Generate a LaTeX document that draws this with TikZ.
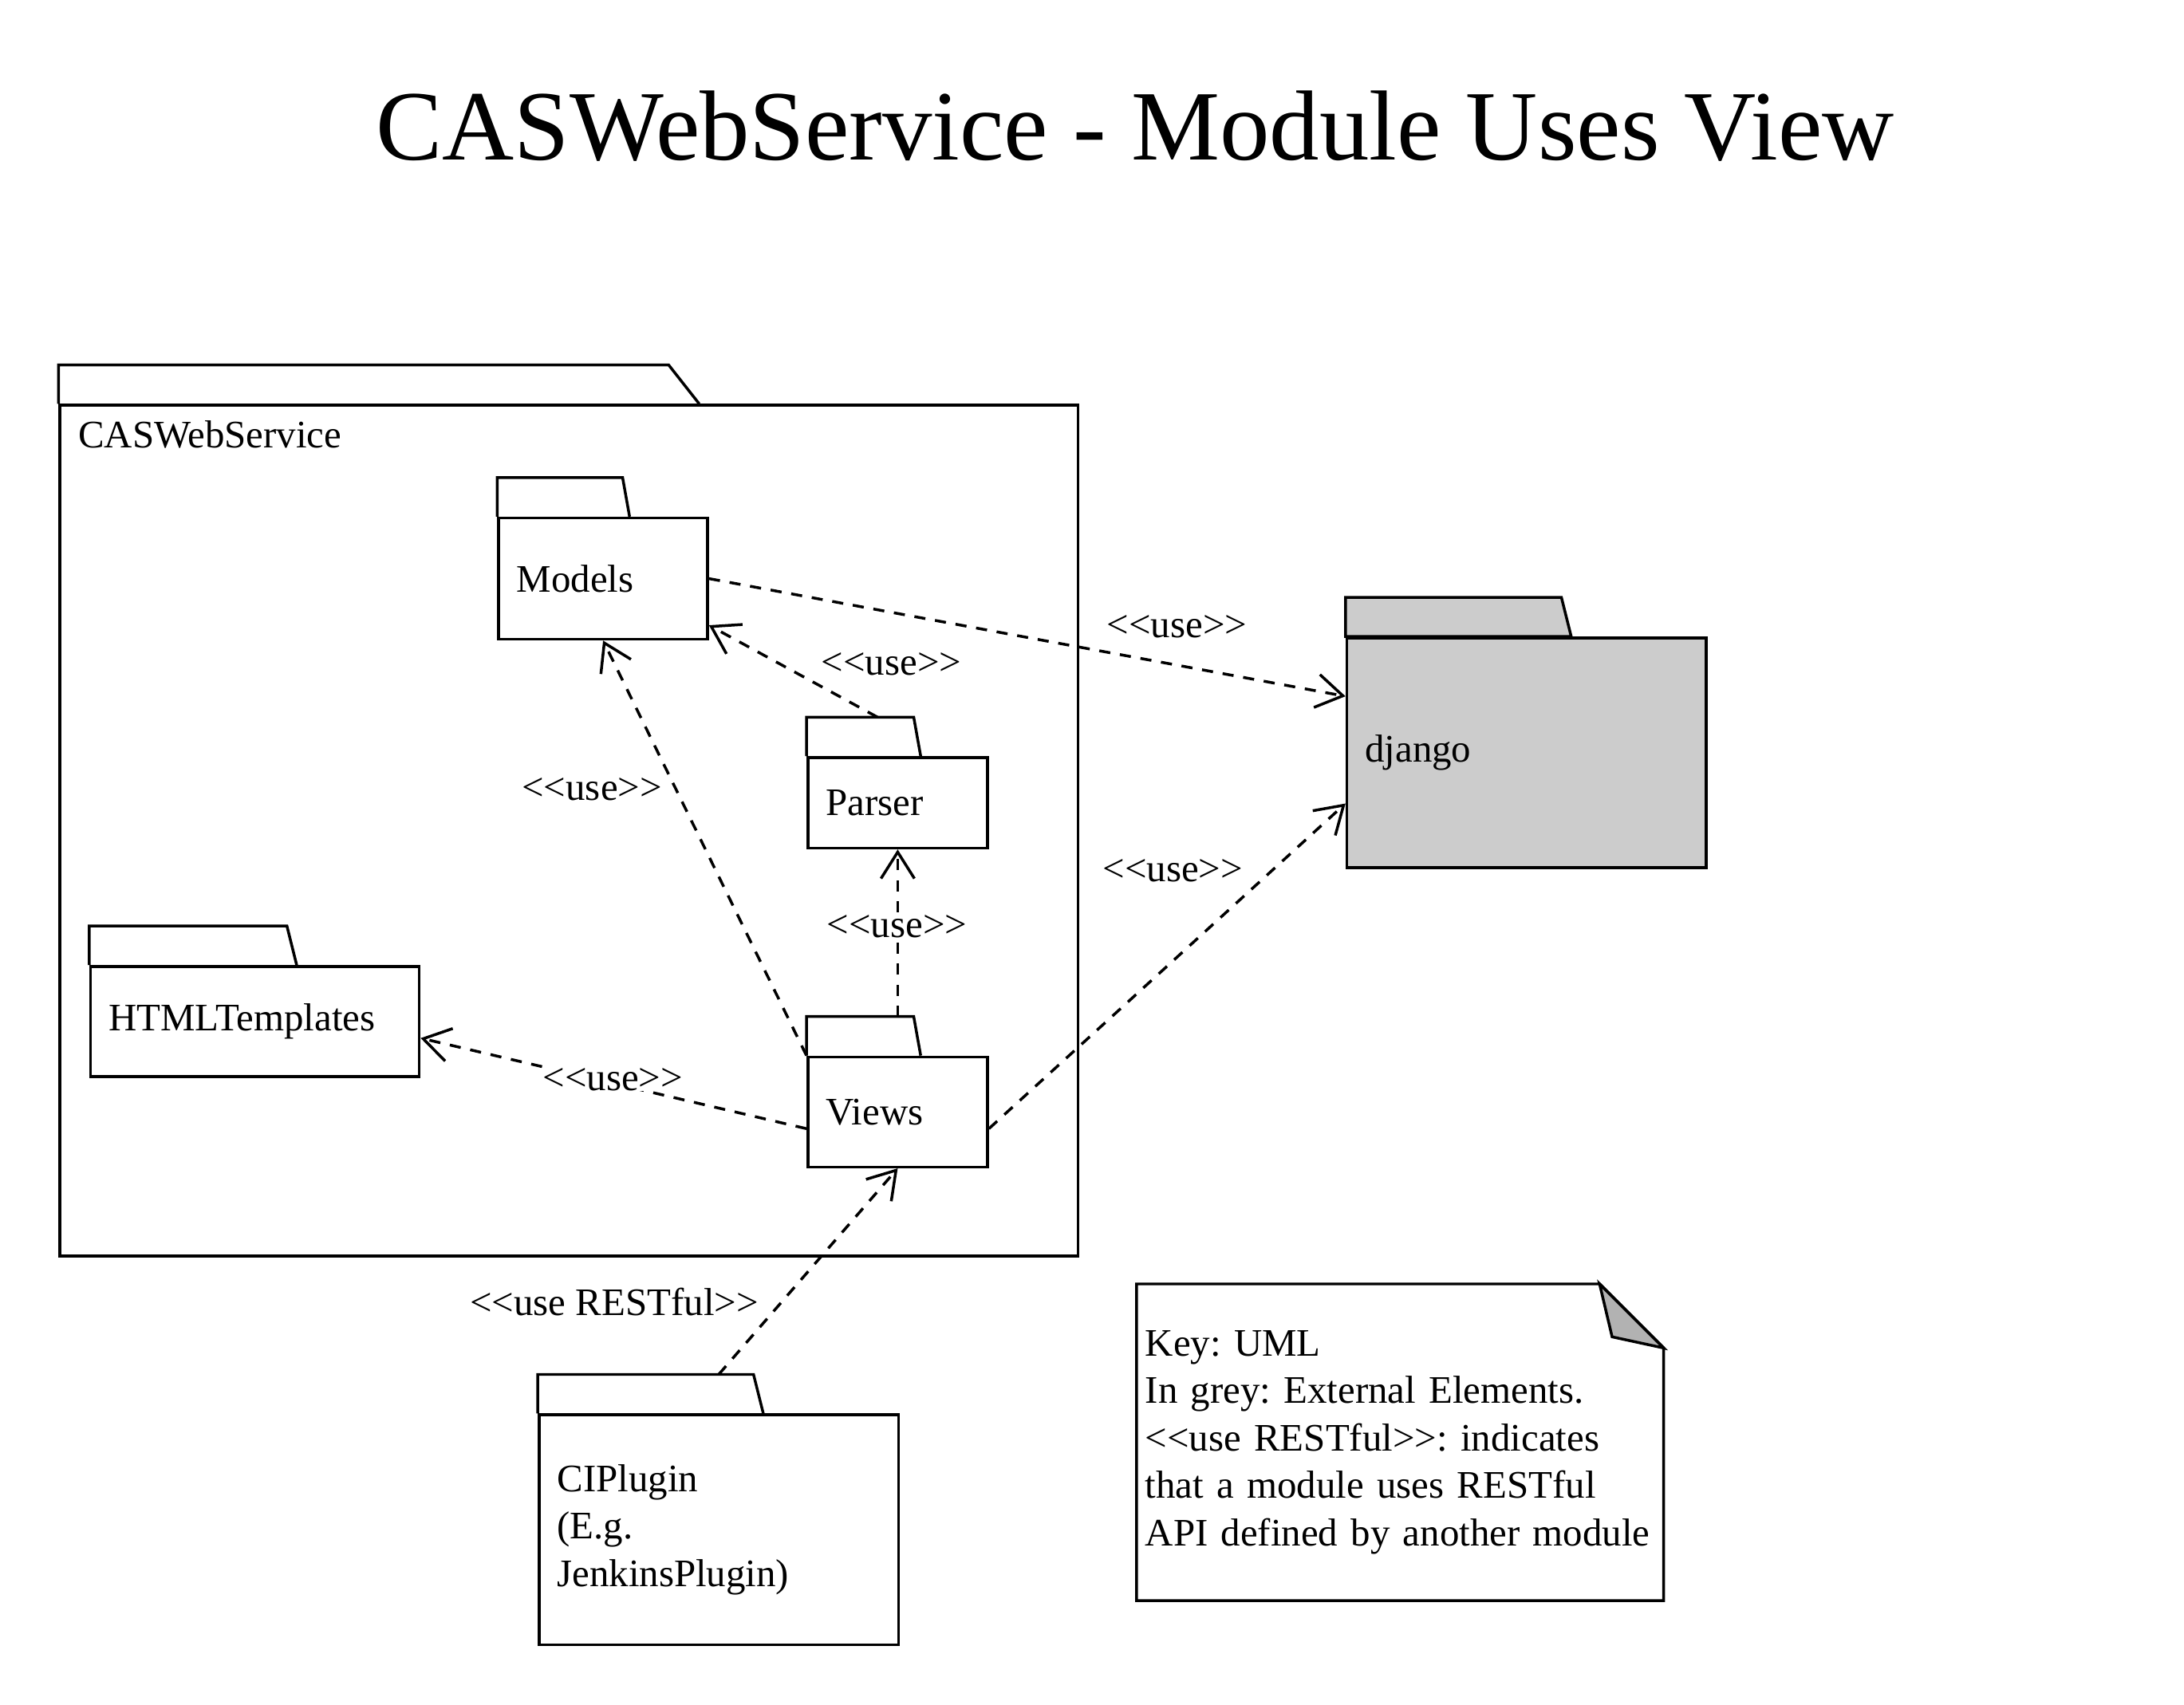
\documentclass[tikz,border=0pt]{standalone}
\usepackage{fontspec}
\setmainfont{Liberation Serif}[Ligatures=TeXOff]
\usetikzlibrary{arrows.meta}
\frenchspacing

\begin{document}
\begin{tikzpicture}[x=1pt,y=1pt,
  every node/.style={font=\fontsize{28}{34}\selectfont},
  pkg/.style={draw, line width=2pt, rectangle, anchor=north west, align=left, inner xsep=13pt, inner ysep=0pt},
  ext/.style={pkg, fill=black!20},
  tab/.style={draw, line width=2pt},
  uses/.style={draw, line width=2pt, dash pattern=on 8pt off 7pt, -{Straight Barb[length=19pt,width=24pt,line width=2pt]}},
  lbl/.style={fill=white, inner sep=0.5pt}
]
	\useasboundingbox (0,0) rectangle (1568,-1224);
	\node[font=\fontsize{71.5}{86}\selectfont, anchor=base] (title) at (815,-115) {CASWebService - Module Uses View};

	% outer package
	\node[pkg, minimum width=731pt, minimum height=611pt] (casws) at (42,-290) {};
	\draw[tab] (casws.north west) -- ++(0,28) -- ++(438,0) -- ++(22,-28);
	\node[anchor=west, inner sep=0pt] (caswslbl) at (56,-312) {CASWebService};

	% modules inside
	\node[pkg, text width=124pt, minimum height=87pt] (models) at (357,-371) {Models};
	\draw[tab] (models.north west) -- ++(0,28) -- ++(90,0) -- ++(5,-28);
	\node[pkg, text width=103pt, minimum height=65pt] (parser) at (579,-543) {Parser};
	\draw[tab] (parser.north west) -- ++(0,28) -- ++(77,0) -- ++(5,-28);
	\node[pkg, text width=210pt, minimum height=79pt] (html) at (64,-693) {HTMLTemplates};
	\draw[tab] (html.north west) -- ++(0,28) -- ++(142,0) -- ++(7,-28);
	\node[pkg, text width=103pt, minimum height=79pt] (views) at (579,-758) {Views};
	\draw[tab] (views.north west) -- ++(0,28) -- ++(77,0) -- ++(5,-28);

	% external and client
	\node[ext, text width=232pt, minimum height=165pt] (django) at (966,-457) {django};
	\draw[tab, fill=black!20] (django.north west) -- ++(0,28) -- ++(155,0) -- ++(7,-28) -- cycle;
	\node[pkg, text width=232pt, minimum height=165pt] (ciplugin) at (386,-1015) {CIPlugin\\(E.g.\\JenkinsPlugin)};
	\draw[tab] (ciplugin.north west) -- ++(0,28) -- ++(155,0) -- ++(7,-28);

	% key
	\node[anchor=north west, align=left, text width=366pt, inner xsep=6pt, inner ysep=0pt, minimum height=227pt] (key) at (816,-922)
		{Key: UML\\In grey: External Elements.\\<<use RESTful>>: indicates\\that a module uses RESTful\\API defined by another module};
	\draw[tab] (key.north west) -- ([xshift=-46pt]key.north east) -- ([yshift=-46pt]key.north east) -- (key.south east) -- (key.south west) -- cycle;
	\draw[tab, fill=black!30] ([xshift=-46pt]key.north east) -- ([shift={(-37pt,-38pt)}]key.north east) -- ([yshift=-46pt]key.north east) -- cycle;

	% uses
	\draw[uses] (models.east) -- ([yshift=-43pt]django.north west);
	\draw[uses] ([shift={(51pt,28pt)}]parser.north west) -- ([yshift=11pt]models.south east);
	\draw[uses] (views.north west) -- (models.south);
	\draw[uses] ([yshift=28pt]views.north) -- (parser.south);
	\draw[uses] ([yshift=-12pt]views.west) -- ([yshift=-12pt]html.east);
	\draw[uses] ([yshift=-12pt]views.east) -- ([yshift=47pt]django.south west);
	\draw[uses] ([yshift=28pt]ciplugin.north) -- (views.south);

	\node[lbl] (use1) at (845,-450) {<<use>>};
	\node[lbl] (use2) at (640,-477) {<<use>>};
	\node[lbl] (use3) at (425,-567) {<<use>>};
	\node[lbl] (use4) at (644,-665) {<<use>>};
	\node[lbl] (use5) at (440,-775) {<<use>>};
	\node[lbl] (use6) at (842,-625) {<<use>>};
	\node[lbl] (use7) at (441,-935) {<<use RESTful>>};
\end{tikzpicture}
\end{document}
